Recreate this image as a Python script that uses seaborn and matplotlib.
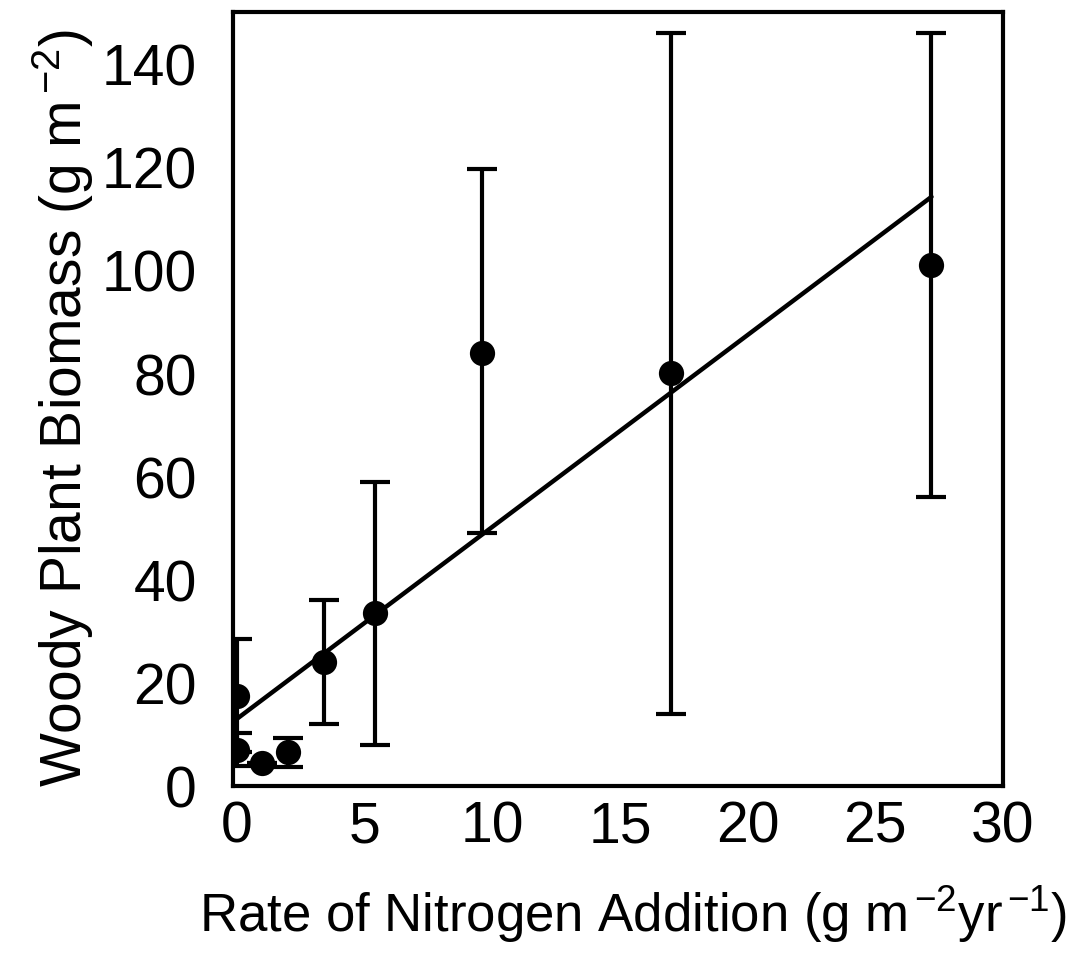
import matplotlib
matplotlib.use("Agg")
import matplotlib.pyplot as plt
import seaborn as sns
import numpy as np
import pandas as pd

# Data
n_rate = [0.0, 0.0, 1.0, 2.0, 3.4, 5.4, 9.6, 17.0, 27.2]
biomass = [17.5, 7.0, 4.5, 6.5, 24.0, 33.5, 84.0, 80.0, 101.0]
err_low = [11.0, 3.2, 0.0, 2.8, 12.0, 25.5, 35.0, 66.0, 45.0]
err_high = [11.0, 3.2, 0.0, 2.8, 12.0, 25.5, 35.5, 66.0, 45.0]
fit_intercept = 13.0
fit_slope = 3.72
x_ticks = [0, 5, 10, 15, 20, 25, 30]
y_ticks = [0, 20, 40, 60, 80, 100, 120, 140]

sns.set_theme(style="white")
plt.rcParams['font.family'] = ['Liberation Sans', 'DejaVu Sans']
plt.rcParams['mathtext.fontset'] = 'custom'
plt.rcParams['mathtext.rm'] = 'Liberation Sans'
plt.rcParams['mathtext.it'] = 'Liberation Sans'
plt.rcParams['text.color'] = 'black'
plt.rcParams['axes.labelcolor'] = 'black'

fig = plt.figure(figsize=(10.71, 9.62), dpi=100)
ax = fig.add_axes([233/1071, 1-787/962, 770/1071, 774/962])

df = pd.DataFrame({"x": n_rate, "y": biomass})
ax.errorbar(n_rate, biomass, yerr=[err_low, err_high], fmt='none',
            ecolor='black', elinewidth=3, capsize=11, capthick=3, zorder=2)
sns.scatterplot(data=df, x="x", y="y", ax=ax, color='black', s=330,
                edgecolor='black', linewidth=0, zorder=3)

fit_x = np.array([min(n_rate), max(n_rate)])
fit_df = pd.DataFrame({"x": fit_x, "y": fit_intercept + fit_slope * fit_x})
sns.lineplot(data=fit_df, x="x", y="y", ax=ax, color='black', linewidth=3.2, zorder=2)

ax.set_xlim(-0.15, 30)
ax.set_ylim(0, 150)
ax.set_xticks(x_ticks)
ax.set_yticks(y_ticks)
ax.set_xticklabels([str(t) for t in x_ticks])
ax.set_yticklabels([str(t) for t in y_ticks])

for s in ax.spines.values():
    s.set_linewidth(3)
    s.set_color('black')

ax.tick_params(axis='both', direction='in', length=10, width=3, colors='black',
               labelsize=41)
ax.tick_params(axis='x', pad=10)
ax.tick_params(axis='y', pad=26)

ax.set_xlabel(r'Rate of Nitrogen Addition (g m$^{\,\mathrm{-2}}$yr$^{\,\mathrm{-1}}$)',
              fontsize=38)
ax.set_ylabel(r'Woody Plant Biomass (g m$^{\,\mathrm{-2}}$)', fontsize=41)
ax.xaxis.set_label_coords(0.52, -0.125)
ax.yaxis.set_label_coords(-0.178, 0.49)

fig.savefig("out.png", dpi=100, facecolor='white')
